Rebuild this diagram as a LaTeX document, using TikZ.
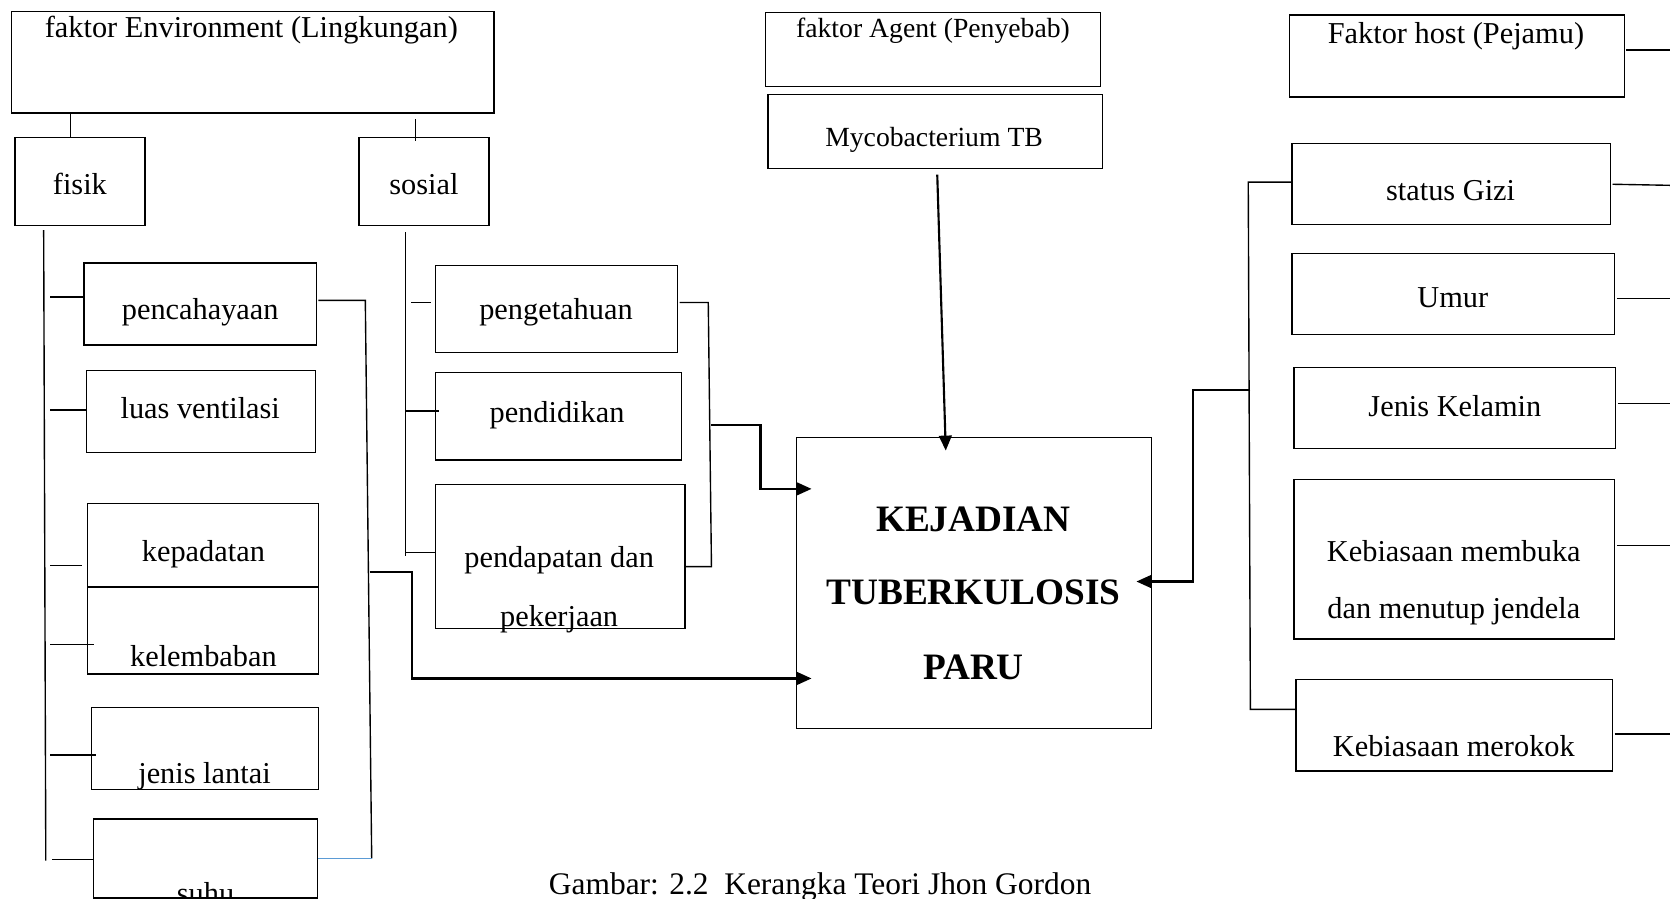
\documentclass[tikz,border=0pt]{standalone}
\usepackage{fontspec}
\setmainfont{Liberation Serif}
\usetikzlibrary{arrows.meta}
\definecolor{lineblue}{RGB}{91,155,213}
\newcommand\fnreg{\fontsize{28.5}{34}\selectfont}
\newcommand\fnsmall{\fontsize{26}{31}\selectfont}
\newcommand\fnbig{\fontsize{35}{42}\selectfont\bfseries}
\newcommand\fncap{\fontsize{29.5}{35}\selectfont}
\newcommand\mybox[5]{\node[boxst, minimum width={#4-#2}, minimum height={#5-#3}, anchor=north west] (#1) at (#2,#3) {};}
\tikzset{
  boxst/.style={draw, line width=1.3pt, inner sep=0pt, outer sep=0pt},
  txt/.style={font=\fnreg, inner sep=0pt, anchor=base},
  txtsmall/.style={font=\fnsmall, inner sep=0pt, anchor=base},
  txtbig/.style={font=\fnbig, inner sep=0pt, anchor=base},
  conn/.style={line width=1.3pt},
  outline/.style={line width=2.2pt},
  outarrow/.style={line width=2.2pt, -{Triangle[length=14pt,width=12pt]}},
}
\begin{document}
\begin{tikzpicture}[x=1pt,y=-1pt]
\useasboundingbox (0,0) rectangle (1568,844);

% ---------------- Environment ----------------
\mybox{env}{11}{11}{464}{106}
\node[txt] (tenv) at (236,35.4) {faktor Environment (Lingkungan)};
\mybox{fisik}{14}{129}{136}{212}
\node[txt] (tfisik) at (75,183) {fisik};
\mybox{sosial}{337}{129}{459}{212}
\node[txt] (tsosial) at (398,183) {sosial};
\draw[conn] (66,0 |- env.south) -- (66,0 |- fisik.north);
\coordinate (sostick) at (390,112);
\draw[conn] (sostick) -- (390,132);

% fisik children
\mybox{pencahayaan}{79}{247}{297}{324}
\node[txt] (tpenc) at (188,300) {pencahayaan};
\mybox{luas}{81}{348}{296}{425}
\node[txt] (tluas) at (188,393) {luas ventilasi};
\mybox{kepadatan}{82}{473}{299}{551}
\node[txt] (tkep) at (191,527) {kepadatan};
\mybox{kelembaban}{82}{551}{299}{633}
\node[txt] (tkel) at (191,626) {kelembaban};
\mybox{lantai}{86}{664}{299}{741}
\node[txt] (tlantai) at (192,736) {jenis lantai};
\mybox{suhu}{88}{769}{298}{843}
\node[txt] (tsuhu) at (193,848) {suhu};

\coordinate (fspineT) at (41,216);
\coordinate (fspineB) at (43,808);
\draw[conn] (fspineT) -- (fspineB);
\draw[conn] (47,279) -- (47,279 -| pencahayaan.west);
\draw[conn] (47,385) -- (47,385 -| luas.west);
\draw[conn] (47,531) -- (77,531);
\draw[conn] (47,605) -- (88,605);
\draw[conn] (47,709) -- (90,709);
\draw[conn] (49,807) -- (49,807 -| suhu.west);

% fisik right bracket
\coordinate (frT) at (343,282);
\coordinate (frB) at (349,806);
\draw[conn] (pencahayaan.east |- frT) ++(2,0) -- (frT) -- (frB);
\draw[conn, lineblue] (suhu.east |- frB) ++(1,0) -- (frB);
\coordinate (fout) at (347,537);
\draw[outarrow] (fout) -- (387,537) -- (387,637) -- (762,637);

% sosial children
\mybox{pengetahuan}{409}{249}{636}{331}
\node[txt] (tpeng) at (522,300) {pengetahuan};
\mybox{pendidikan}{409}{350}{640}{432}
\node[txt] (tpend) at (523,397) {pendidikan};
\mybox{pendapatan}{409}{455}{643}{590}
\node[txt] (tpdpt1) at (525,533) {pendapatan dan};
\node[txt] (tpdpt2) at (525,588) {pekerjaan};

\coordinate (sspineT) at (381,218);
\coordinate (sspineB) at (381,522);
\draw[conn] (sspineT) -- (sspineB);
\draw[conn] (386,284) -- (405,284);
\draw[conn] (381,386) -- (412,386);
\draw[conn] (381,519) -- (381,519 -| pendapatan.west);

% sosial right bracket
\coordinate (srT) at (665,284);
\coordinate (srB) at (668,532);
\draw[conn] (pengetahuan.east |- srT) ++(2,0) -- (srT) -- (srB) -- (pendapatan.east |- srB);
\coordinate (sout) at (668,399);
\draw[outarrow] (sout) -- (714,399) -- (714,459) -- (762,459);

% ---------------- Agent ----------------
\mybox{agent}{719}{12}{1033}{81}
\node[txtsmall] (tagent) at (876,35.4) {faktor Agent (Penyebab)};
\mybox{myco}{721}{89}{1035}{158}
\node[txtsmall] (tmyco) at (877,138) {Mycobacterium TB};

% ---------------- Central ----------------
\mybox{tb}{748}{411}{1081}{684}
\node[txtbig] (ttb1) at (914,499) {KEJADIAN};
\node[txtbig] (ttb2) at (914,568) {TUBERKULOSIS};
\node[txtbig] (ttb3) at (914,637.6) {PARU};

\draw[line width=2pt, -{Triangle[length=14pt,width=12pt]}] (880,164) -- (888,423);

% ---------------- Host ----------------
\mybox{host}{1211}{14}{1525}{91}
\node[txt] (thost) at (1367,40.8) {Faktor host (Pejamu)};
\mybox{gizi}{1213}{135}{1512}{211}
\node[txt] (tgizi) at (1362,188.7) {status Gizi};
\mybox{umur}{1213}{238}{1516}{314}
\node[txt] (tumur) at (1364,288.6) {Umur};
\mybox{kelamin}{1215}{345}{1517}{421}
\node[txt] (tkelamin) at (1366,391) {Jenis Kelamin};
\mybox{jendela}{1215}{450}{1516}{600}
\node[txt] (tjend1) at (1365,527) {Kebiasaan membuka};
\node[txt] (tjend2) at (1365,580.7) {dan menutup jendela};
\mybox{merokok}{1217}{638}{1514}{724}
\node[txt] (trokok) at (1365,710) {Kebiasaan merokok};

\draw[conn] (host.east |- 0,47) ++(2,0) -- (1568,47);
\draw[conn] (gizi.east |- 0,173) ++(2,0) -- (1568,174);
\draw[conn] (umur.east |- 0,280) ++(2,0) -- (1568,280);
\draw[conn] (kelamin.east |- 0,379) ++(2,0) -- (1568,379);
\draw[conn] (jendela.east |- 0,512) ++(2,0) -- (1568,512);
\draw[conn] (merokok.east |- 0,689) ++(2,0) -- (1568,689);

\coordinate (hspineT) at (1172,171);
\coordinate (hspineB) at (1174,666);
\draw[conn] (gizi.west |- hspineT) -- (hspineT) -- (hspineB) -- (merokok.west |- hspineB);
\coordinate (hout) at (1174,366);
\draw[outarrow] (hout) -- (1120,366) -- (1120,546) -- (1067,546);

% ---------------- Caption ----------------
\node[font=\fncap, inner sep=0pt, anchor=base] (caption) at (770,840) {Gambar: 2.2\ \ Kerangka Teori Jhon Gordon};
\end{tikzpicture}
\end{document}
